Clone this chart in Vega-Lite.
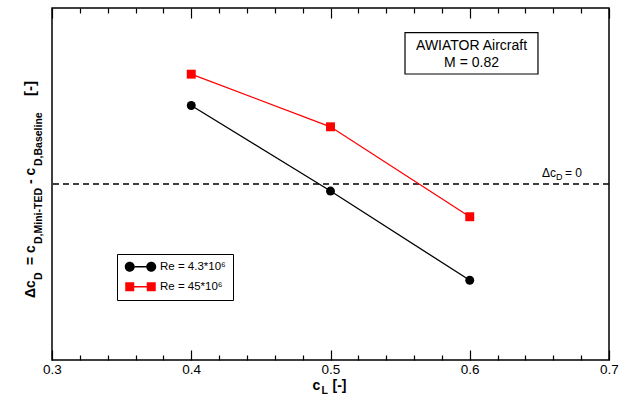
{
  "$schema": "https://vega.github.io/schema/vega-lite/v6.json",
  "width": 557,
  "height": 352,
  "autosize": {"type": "none"},
  "padding": {"left": 52, "top": 8, "right": 20, "bottom": 43},
  "config": {
    "view": {"stroke": "black", "strokeWidth": 1.5},
    "font": "Liberation Sans",
    "text": {"font": "Liberation Sans", "color": "black"}
  },
  "data": {"values": [{}]},
  "datasets": {
    "series": [
      {"cL": 0.4, "dCD": 0.446, "Re": "Re = 4.3*10⁶"},
      {"cL": 0.5, "dCD": -0.040, "Re": "Re = 4.3*10⁶"},
      {"cL": 0.6, "dCD": -0.547, "Re": "Re = 4.3*10⁶"},
      {"cL": 0.4, "dCD": 0.624, "Re": "Re = 45*10⁶"},
      {"cL": 0.5, "dCD": 0.325, "Re": "Re = 45*10⁶"},
      {"cL": 0.6, "dCD": -0.186, "Re": "Re = 45*10⁶"}
    ]
  },
  "resolve": {"axis": {"x": "independent"}, "scale": {"color": "independent", "shape": "independent"}},
  "layer": [
    {
      "mark": {"type": "rule", "strokeDash": [6, 4], "color": "black", "strokeWidth": 1.5},
      "encoding": {
        "y": {"datum": 0, "type": "quantitative", "scale": {"domain": [-1, 1], "nice": false, "zero": false}, "axis": null}
      }
    },
    {
      "data": {"name": "series"},
      "mark": {"type": "line", "strokeWidth": 1.3},
      "encoding": {
        "x": {
          "field": "cL", "type": "quantitative",
          "scale": {"domain": [0.3, 0.7], "nice": false, "zero": false},
          "axis": {
            "orient": "bottom",
            "offset": -10,
            "zindex": 1,
            "values": [0.3, 0.4, 0.5, 0.6, 0.7],
            "format": ".1f",
            "ticks": true,
            "tickSize": 10,
            "tickColor": "black",
            "tickWidth": 1.2,
            "domain": false,
            "grid": false,
            "labelFontSize": 13.5,
            "labelColor": "black",
            "labelFont": "Liberation Sans",
            "labelPadding": 2,
            "labelOverlap": false,
            "labelFlush": false,
            "title": null
          }
        },
        "y": {"field": "dCD", "type": "quantitative", "scale": {"domain": [-1, 1], "nice": false, "zero": false}, "axis": null},
        "color": {"field": "Re", "type": "nominal", "legend": null, "scale": {"domain": ["Re = 4.3*10⁶", "Re = 45*10⁶"], "range": ["#000000", "#ff0000"]}}
      }
    },
    {
      "data": {"name": "series"},
      "mark": {"type": "point", "filled": true, "size": 80, "opacity": 1},
      "encoding": {
        "x": {
          "field": "cL", "type": "quantitative",
          "axis": {
            "orient": "top",
            "offset": -10,
            "zindex": 1,
            "values": [0.3, 0.4, 0.5, 0.6, 0.7],
            "labels": false,
            "ticks": true,
            "tickSize": 10,
            "tickColor": "black",
            "tickWidth": 1.2,
            "domain": false,
            "grid": false,
            "title": null
          }
        },
        "y": {"field": "dCD", "type": "quantitative", "axis": null},
        "color": {"field": "Re", "type": "nominal", "legend": null, "scale": {"domain": ["Re = 4.3*10⁶", "Re = 45*10⁶"], "range": ["#000000", "#ff0000"]}},
        "shape": {"field": "Re", "type": "nominal", "legend": null, "scale": {"domain": ["Re = 4.3*10⁶", "Re = 45*10⁶"], "range": ["circle", "square"]}}
      }
    },
    {
      "data": {"name": "series"},
      "transform": [{"filter": "datum.cL > 1"}],
      "mark": {"type": "point", "opacity": 0},
      "encoding": {
        "x": {
          "field": "cL", "type": "quantitative",
          "axis": {
            "orient": "bottom",
            "offset": -5,
            "zindex": 1,
            "values": [0.32, 0.34, 0.36, 0.38, 0.42, 0.44, 0.46, 0.48, 0.52, 0.54, 0.56, 0.58, 0.62, 0.64, 0.66, 0.68],
            "labels": false,
            "ticks": true,
            "tickSize": 5,
            "tickColor": "black",
            "tickWidth": 1.2,
            "domain": false,
            "grid": false,
            "title": null
          }
        }
      }
    },
    {
      "data": {"name": "series"},
      "transform": [{"filter": "datum.cL > 1"}],
      "mark": {"type": "point", "opacity": 0},
      "encoding": {
        "x": {
          "field": "cL", "type": "quantitative",
          "axis": {
            "orient": "top",
            "offset": -5,
            "zindex": 1,
            "values": [0.32, 0.34, 0.36, 0.38, 0.42, 0.44, 0.46, 0.48, 0.52, 0.54, 0.56, 0.58, 0.62, 0.64, 0.66, 0.68],
            "labels": false,
            "ticks": true,
            "tickSize": 5,
            "tickColor": "black",
            "tickWidth": 1.2,
            "domain": false,
            "grid": false,
            "title": null
          }
        }
      }
    },
    {
      "data": {"name": "series"},
      "transform": [{"filter": "datum.cL > 1"}],
      "mark": {"type": "point", "filled": true, "opacity": 1},
      "encoding": {
        "color": {
          "field": "Re", "type": "nominal",
          "scale": {"domain": ["Re = 4.3*10⁶", "Re = 45*10⁶"], "range": ["#000000", "#ff0000"]},
          "legend": {
            "orient": "none",
            "legendX": 65,
            "legendY": 246,
            "title": null,
            "strokeColor": "black",
            "fillColor": "white",
            "padding": 7,
            "symbolSize": 100,
            "symbolOpacity": 1,
            "symbolStrokeWidth": 0,
            "labelOffset": 24.5,
            "rowPadding": 7,
            "labelFontSize": 11.5,
            "labelFont": "Liberation Sans",
            "labelColor": "black",
            "encode": {"legend": {"strokeWidth": {"value": 1.2}}}
          }
        },
        "shape": {
          "field": "Re", "type": "nominal",
          "scale": {"domain": ["Re = 4.3*10⁶", "Re = 45*10⁶"], "range": [
            "M -1 0 A 1 1 0 1 0 1 0 A 1 1 0 1 0 -1 0 Z M 1 -0.13 L 3.3 -0.13 L 3.3 0.13 L 1 0.13 Z M 3.3 0 A 1 1 0 1 0 5.3 0 A 1 1 0 1 0 3.3 0 Z",
            "M -0.9 -0.9 L 0.9 -0.9 L 0.9 0.9 L -0.9 0.9 Z M 0.9 -0.13 L 3.4 -0.13 L 3.4 0.13 L 0.9 0.13 Z M 3.4 -0.9 L 5.2 -0.9 L 5.2 0.9 L 3.4 0.9 Z"
          ]}
        }
      }
    },
    {
      "mark": {"type": "rect", "fill": "white", "stroke": "black", "strokeWidth": 1.2},
      "encoding": {
        "x": {"datum": 0.5535, "type": "quantitative", "axis": null},
        "x2": {"datum": 0.649},
        "y": {"datum": 0.860, "type": "quantitative", "axis": null},
        "y2": {"datum": 0.625}
      }
    },
    {
      "mark": {"type": "text", "text": "AWIATOR Aircraft", "fontSize": 14, "align": "center", "baseline": "middle"},
      "encoding": {
        "x": {"datum": 0.6013, "type": "quantitative", "axis": null},
        "y": {"datum": 0.784, "type": "quantitative", "axis": null}
      }
    },
    {
      "mark": {"type": "text", "text": "M = 0.82", "fontSize": 14, "align": "center", "baseline": "middle"},
      "encoding": {
        "x": {"datum": 0.6013, "type": "quantitative", "axis": null},
        "y": {"datum": 0.686, "type": "quantitative", "axis": null}
      }
    },
    {
      "mark": {"type": "text", "text": "Δc", "fontSize": 12, "align": "left", "baseline": "alphabetic", "dx": -67, "dy": -7},
      "encoding": {"x": {"datum": 0.7, "type": "quantitative", "axis": null}, "y": {"datum": 0, "type": "quantitative", "axis": null}}
    },
    {
      "mark": {"type": "text", "text": "D", "fontSize": 9, "align": "left", "baseline": "alphabetic", "dx": -53, "dy": -4},
      "encoding": {"x": {"datum": 0.7, "type": "quantitative", "axis": null}, "y": {"datum": 0, "type": "quantitative", "axis": null}}
    },
    {
      "mark": {"type": "text", "text": "= 0", "fontSize": 12, "align": "left", "baseline": "alphabetic", "dx": -44, "dy": -7},
      "encoding": {"x": {"datum": 0.7, "type": "quantitative", "axis": null}, "y": {"datum": 0, "type": "quantitative", "axis": null}}
    },
    {
      "mark": {"type": "text", "text": "c", "fontSize": 14, "fontWeight": "bold", "align": "left", "baseline": "alphabetic", "dx": -18, "dy": 30},
      "encoding": {"x": {"datum": 0.5, "type": "quantitative", "axis": null}, "y": {"datum": -1, "type": "quantitative", "axis": null}}
    },
    {
      "mark": {"type": "text", "text": "L", "fontSize": 10.5, "fontWeight": "bold", "align": "left", "baseline": "alphabetic", "dx": -9, "dy": 34},
      "encoding": {"x": {"datum": 0.5, "type": "quantitative", "axis": null}, "y": {"datum": -1, "type": "quantitative", "axis": null}}
    },
    {
      "mark": {"type": "text", "text": "[-]", "fontSize": 14, "fontWeight": "bold", "align": "left", "baseline": "alphabetic", "dx": 2, "dy": 30},
      "encoding": {"x": {"datum": 0.5, "type": "quantitative", "axis": null}, "y": {"datum": -1, "type": "quantitative", "axis": null}}
    },
    {
      "mark": {"type": "text", "text": "Δc", "fontSize": 14, "fontWeight": "bold", "angle": 270, "align": "left", "baseline": "alphabetic", "dx": -114, "dy": -17},
      "encoding": {"x": {"datum": 0.3, "type": "quantitative", "axis": null}, "y": {"datum": 0, "type": "quantitative", "axis": null}}
    },
    {
      "mark": {"type": "text", "text": "D", "fontSize": 10.5, "fontWeight": "bold", "angle": 270, "align": "left", "baseline": "alphabetic", "dx": -96, "dy": -10},
      "encoding": {"x": {"datum": 0.3, "type": "quantitative", "axis": null}, "y": {"datum": 0, "type": "quantitative", "axis": null}}
    },
    {
      "mark": {"type": "text", "text": "= c", "fontSize": 14, "fontWeight": "bold", "angle": 270, "align": "left", "baseline": "alphabetic", "dx": -81, "dy": -17},
      "encoding": {"x": {"datum": 0.3, "type": "quantitative", "axis": null}, "y": {"datum": 0, "type": "quantitative", "axis": null}}
    },
    {
      "mark": {"type": "text", "text": "D,Mini-TED", "fontSize": 10.5, "fontWeight": "bold", "angle": 270, "align": "left", "baseline": "alphabetic", "dx": -60, "dy": -10},
      "encoding": {"x": {"datum": 0.3, "type": "quantitative", "axis": null}, "y": {"datum": 0, "type": "quantitative", "axis": null}}
    },
    {
      "mark": {"type": "text", "text": "- c", "fontSize": 14, "fontWeight": "bold", "angle": 270, "align": "left", "baseline": "alphabetic", "dx": 0, "dy": -17},
      "encoding": {"x": {"datum": 0.3, "type": "quantitative", "axis": null}, "y": {"datum": 0, "type": "quantitative", "axis": null}}
    },
    {
      "mark": {"type": "text", "text": "D,Baseline", "fontSize": 10.5, "fontWeight": "bold", "angle": 270, "align": "left", "baseline": "alphabetic", "dx": 18, "dy": -10},
      "encoding": {"x": {"datum": 0.3, "type": "quantitative", "axis": null}, "y": {"datum": 0, "type": "quantitative", "axis": null}}
    },
    {
      "mark": {"type": "text", "text": "[-]", "fontSize": 15, "fontWeight": "bold", "angle": 270, "align": "left", "baseline": "alphabetic", "dx": 88, "dy": -17},
      "encoding": {"x": {"datum": 0.3, "type": "quantitative", "axis": null}, "y": {"datum": 0, "type": "quantitative", "axis": null}}
    }
  ]
}
